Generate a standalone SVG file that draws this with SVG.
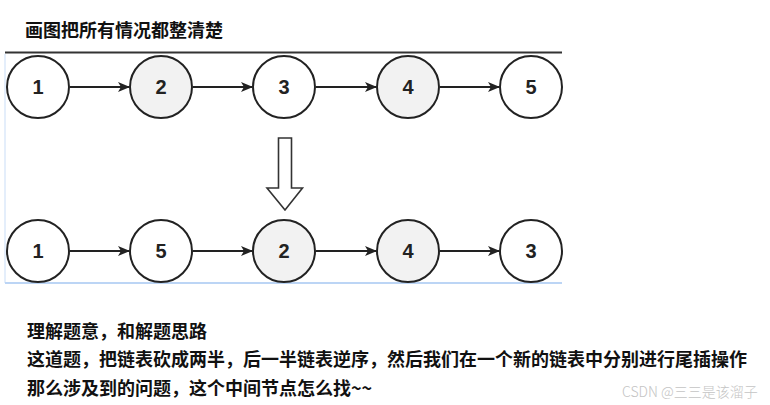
<svg xmlns="http://www.w3.org/2000/svg" width="770" height="405" viewBox="0 0 770 405">
<defs>
<style>
.txt{font-family:"Noto Sans CJK SC","Liberation Sans",sans-serif;font-weight:bold;font-size:18px;fill:#111}
.node circle{stroke:#222;stroke-width:2}
.w{fill:#fff}
.g{fill:#f2f2f2}
.num{font-family:"Liberation Sans",Arial,sans-serif;font-weight:bold;font-size:20px;fill:#222;text-anchor:middle}
.edge{stroke:#222;stroke-width:2;fill:none;marker-end:url(#ah)}
.wm{font-family:"Noto Sans CJK SC","Liberation Sans",sans-serif;font-size:14px;fill:#c4c4c4;font-weight:300}
</style>
<marker id="ah" markerWidth="12" markerHeight="12" refX="11" refY="6" orient="auto" markerUnits="userSpaceOnUse">
<path d="M0,1 L12,6 L0,11 L3,6 Z" fill="#222"/>
</marker>
</defs>
<rect width="770" height="405" fill="#fff"/>
<text class="txt" x="25" y="37">画图把所有情况都整清楚</text>
<line x1="5" y1="54" x2="5" y2="283" stroke="#dbe8fa" stroke-width="1.5"/>
<line x1="5" y1="283" x2="562" y2="283" stroke="#bcd5f5" stroke-width="2"/>
<line x1="5" y1="52.5" x2="562" y2="52.5" stroke="#333" stroke-width="1.8"/>
<g id="connectors">
<line class="edge" x1="70" y1="87" x2="129" y2="87"/>
<line class="edge" x1="193" y1="87" x2="252" y2="87"/>
<line class="edge" x1="316" y1="87" x2="376" y2="87"/>
<line class="edge" x1="440" y1="87" x2="499" y2="87"/>
<line class="edge" x1="70" y1="251" x2="129" y2="251"/>
<line class="edge" x1="193" y1="251" x2="252" y2="251"/>
<line class="edge" x1="316" y1="251" x2="376" y2="251"/>
<line class="edge" x1="440" y1="251" x2="499" y2="251"/>
</g>
<g id="t1" class="node"><circle class="w" cx="38" cy="87" r="31"/><text class="num" x="38" y="94">1</text></g>
<g id="t2" class="node"><circle class="g" cx="161" cy="87" r="31"/><text class="num" x="161" y="94">2</text></g>
<g id="t3" class="node"><circle class="w" cx="284" cy="87" r="31"/><text class="num" x="284" y="94">3</text></g>
<g id="t4" class="node"><circle class="g" cx="408" cy="87" r="31"/><text class="num" x="408" y="94">4</text></g>
<g id="t5" class="node"><circle class="w" cx="531" cy="87" r="31"/><text class="num" x="531" y="94">5</text></g>
<g id="down-arrow"><path d="M278.5,138 H291.5 V188 H302.5 L285,210 L267,188 H278.5 Z" fill="#fff" stroke="#333" stroke-width="1.6" stroke-linejoin="miter"/></g>
<g id="b1" class="node"><circle class="w" cx="38" cy="251" r="31"/><text class="num" x="38" y="258">1</text></g>
<g id="b2" class="node"><circle class="w" cx="161" cy="251" r="31"/><text class="num" x="161" y="258">5</text></g>
<g id="b3" class="node"><circle class="g" cx="284" cy="251" r="31"/><text class="num" x="284" y="258">2</text></g>
<g id="b4" class="node"><circle class="g" cx="408" cy="251" r="31"/><text class="num" x="408" y="258">4</text></g>
<g id="b5" class="node"><circle class="w" cx="531" cy="251" r="31"/><text class="num" x="531" y="258">3</text></g>
<text class="txt" x="27" y="338">理解题意，和解题思路</text>
<text class="txt" x="27" y="366">这道题，把链表砍成两半，后一半链表逆序，然后我们在一个新的链表中分别进行尾插操作</text>
<text class="txt" x="27" y="395">那么涉及到的问题，这个中间节点怎么找~~</text>
<text class="wm" x="622" y="397">CSDN @三三是该溜子</text>
</svg>
